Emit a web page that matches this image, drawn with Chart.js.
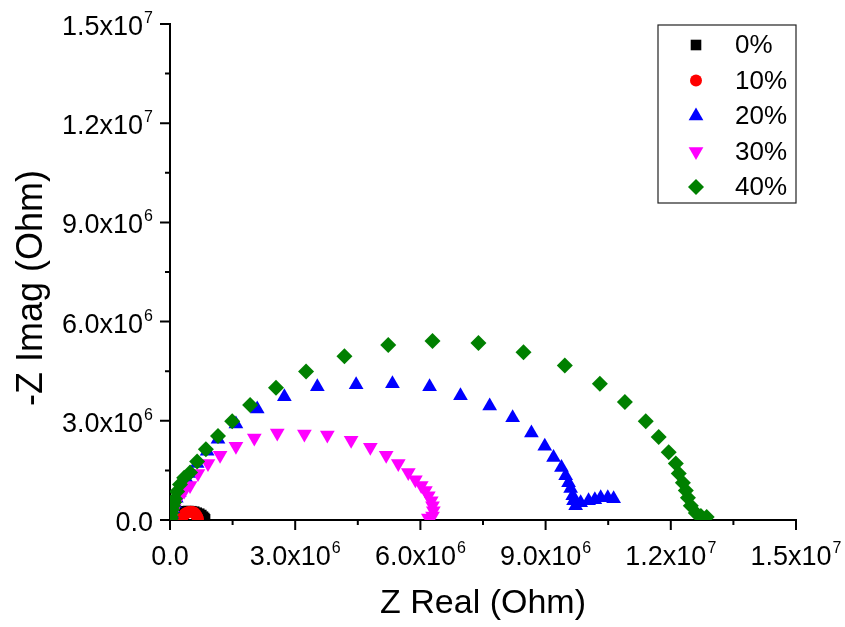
<!DOCTYPE html>
<html>
<head>
<meta charset="utf-8">
<script src="https://cdn.jsdelivr.net/npm/chart.js@4.4.1/dist/chart.umd.min.js"></script>
<style>
  html, body { margin: 0; padding: 0; background: #fff; }
  canvas { display: block; }
</style>
</head>
<body>
<canvas id="nyquist" width="845" height="627"></canvas>
<script>
// ===== DATA (values in 10^6 Ohm) =====
const SERIES = ['0%', '10%', '20%', '30%', '40%'];

const x0 = [0.03, 0.05, 0.08, 0.12, 0.17, 0.23, 0.30, 0.37, 0.44, 0.51, 0.58, 0.64, 0.70, 0.75, 0.79, 0.82, 0.84];
const y0 = [0.03, 0.08, 0.12, 0.16, 0.20, 0.23, 0.25, 0.265, 0.27, 0.265, 0.25, 0.22, 0.19, 0.15, 0.10, 0.06, 0.02];

const x1 = [0.27, 0.29, 0.32, 0.36, 0.40, 0.45, 0.50, 0.55, 0.59, 0.62, 0.65, 0.67];
const y1 = [0.03, 0.09, 0.14, 0.18, 0.22, 0.24, 0.25, 0.24, 0.21, 0.16, 0.10, 0.04];

const x2 = [0.02, 0.04, 0.07, 0.11, 0.15, 0.22, 0.31, 0.39, 0.48, 0.65, 0.89, 1.15, 1.58, 2.09, 2.74, 3.53, 4.46, 5.33, 6.22, 6.96,
            7.66, 8.21, 8.66, 8.98, 9.19, 9.38, 9.48, 9.55, 9.60, 9.65, 9.67, 9.72, 9.84, 10.03, 10.18, 10.32, 10.49, 10.63];
const y2 = [0.05, 0.17, 0.34, 0.50, 0.66, 0.83, 1.07, 1.25, 1.41, 1.71, 2.08, 2.44, 2.90, 3.36, 3.73, 4.03, 4.09, 4.12, 4.03, 3.76,
            3.45, 3.09, 2.63, 2.23, 1.89, 1.59, 1.34, 1.13, 0.95, 0.73, 0.58, 0.43, 0.52, 0.58, 0.61, 0.67, 0.67, 0.64];

const x3 = [0.02, 0.04, 0.07, 0.10, 0.14, 0.19, 0.24, 0.34, 0.48, 0.67, 0.91, 1.20, 1.58, 2.02, 2.57, 3.22, 3.77, 4.34, 4.80, 5.18,
            5.47, 5.71, 5.88, 6.02, 6.12, 6.19, 6.26, 6.29, 6.31, 6.29, 6.19];
const y3 = [0.05, 0.15, 0.25, 0.35, 0.52, 0.62, 0.73, 0.88, 1.04, 1.41, 1.71, 1.96, 2.23, 2.48, 2.63, 2.60, 2.57, 2.41, 2.20, 1.96,
            1.71, 1.44, 1.22, 1.04, 0.89, 0.73, 0.58, 0.43, 0.28, 0.12, 0.06];

const x4 = [0.01, 0.02, 0.03, 0.05, 0.07, 0.10, 0.12, 0.17, 0.24, 0.34, 0.48, 0.65, 0.86, 1.15, 1.49, 1.92, 2.54, 3.26, 4.18, 5.23,
            6.29, 7.39, 8.47, 9.46, 10.30, 10.90, 11.40, 11.71, 11.95, 12.12, 12.19, 12.29, 12.36, 12.41, 12.48, 12.60, 12.72, 12.86];
const y4 = [0.03, 0.10, 0.21, 0.32, 0.43, 0.54, 0.64, 0.86, 1.07, 1.28, 1.44, 1.77, 2.14, 2.54, 2.99, 3.48, 4.00, 4.49, 4.95, 5.29,
            5.41, 5.35, 5.07, 4.67, 4.12, 3.57, 2.99, 2.51, 2.05, 1.71, 1.41, 1.13, 0.89, 0.67, 0.43, 0.21, 0.12, 0.09];

// tick labels (base text + superscript exponent)
const TICK_VALUES = [0, 3e6, 6e6, 9e6, 1.2e7, 1.5e7];
const TICK_BASE = ['0.0', '3.0x10', '6.0x10', '9.0x10', '1.2x10', '1.5x10'];
const TICK_EXP = ['', '6', '6', '6', '7', '7'];

const X_TITLE = 'Z Real (Ohm)';
const Y_TITLE = '-Z Imag (Ohm)';

// ===== STYLE =====
const COLORS = ['#000000', '#ff0000', '#0000ff', '#ff00ff', '#008000'];
const SHAPES = ['rect', 'circle', 'triangle', 'triangle', 'rectRot'];
const ROTATE = [0, 0, 0, 180, 0];
const RADIUS = [7.5, 6, 8.5, 8.5, 8];
const FONT = '"Liberation Sans", Arial, sans-serif';

const xs = [x0, x1, x2, x3, x4];
const ys = [y0, y1, y2, y3, y4];

const datasets = SERIES.map((name, i) => ({
    label: name,
    data: xs[i].map((v, k) => ({ x: v * 1e6, y: ys[i][k] * 1e6 })),
    pointStyle: SHAPES[i],
    rotation: ROTATE[i],
    pointRadius: RADIUS[i],
    pointHoverRadius: RADIUS[i],
    pointBorderWidth: 0,
    backgroundColor: COLORS[i],
    borderColor: COLORS[i],
    showLine: false,
    order: SERIES.length - i   // later series on top
}));

// superscript label helper
function drawSup(ctx, base, exp, x, baseline, align) {
    ctx.font = '27px ' + FONT;
    const wb = ctx.measureText(base).width;
    ctx.font = '16px ' + FONT;
    const we = exp ? ctx.measureText(exp).width + 1 : 0;
    const total = wb + we;
    const left = align === 'center' ? x - total / 2 : x - total;
    ctx.textAlign = 'left';
    ctx.textBaseline = 'alphabetic';
    ctx.font = '27px ' + FONT;
    ctx.fillText(base, left, baseline);
    if (exp) {
        ctx.font = '16px ' + FONT;
        ctx.fillText(exp, left + wb + 1, baseline - 12);
    }
}

// ===== AXES DECOR / LEGEND =====
const decor = {
    id: 'decor',
    afterDraw(chart) {
        const { ctx, chartArea: a, scales: { x, y } } = chart;
        ctx.save();
        ctx.strokeStyle = '#000';
        ctx.fillStyle = '#000';
        ctx.lineWidth = 2;

        // ticks (major outward 10px, minor 5px at midpoints)
        TICK_VALUES.forEach((v, i) => {
            const px = x.getPixelForValue(v);
            const py = y.getPixelForValue(v);
            ctx.beginPath();
            ctx.moveTo(px, a.bottom); ctx.lineTo(px, a.bottom + 10);
            ctx.moveTo(a.left, py); ctx.lineTo(a.left - 10, py);
            if (i > 0) {
                const mid = (v + TICK_VALUES[i - 1]) / 2;
                const mx = x.getPixelForValue(mid);
                const my = y.getPixelForValue(mid);
                ctx.moveTo(mx, a.bottom); ctx.lineTo(mx, a.bottom + 5);
                ctx.moveTo(a.left, my); ctx.lineTo(a.left - 5, my);
            }
            ctx.stroke();

            drawSup(ctx, TICK_BASE[i], TICK_EXP[i], px, a.bottom + 45, 'center');
            drawSup(ctx, TICK_BASE[i], TICK_EXP[i], a.left - 17, py + 11, 'right');
        });

        // axis titles
        ctx.textAlign = 'center';
        ctx.textBaseline = 'middle';
        ctx.font = '34px ' + FONT;
        ctx.fillText(X_TITLE, (a.left + a.right) / 2, 604);
        ctx.font = '36px ' + FONT;
        ctx.translate(32, 288);
        ctx.rotate(-Math.PI / 2);
        ctx.fillText(Y_TITLE, 0, 0);
        ctx.setTransform(1, 0, 0, 1, 0, 0);

        // legend box
        ctx.lineWidth = 1.2;
        ctx.strokeStyle = '#222';
        ctx.fillStyle = '#fff';
        ctx.fillRect(658, 25, 138, 178);
        ctx.strokeRect(658, 25, 138, 178);
        chart.data.datasets.forEach((ds, i) => {
            const cy = 45 + i * 35.5;
            ctx.fillStyle = ds.backgroundColor;
            Chart.helpers.drawPoint(ctx, {
                pointStyle: ds.pointStyle,
                rotation: ds.rotation,
                radius: ds.pointRadius,
                borderWidth: 0
            }, 696, cy);
            ctx.fillStyle = '#000';
            ctx.font = '26px ' + FONT;
            ctx.textAlign = 'left';
            ctx.textBaseline = 'middle';
            ctx.fillText(ds.label, 735, cy + 1);
        });
        ctx.restore();
    }
};

new Chart(document.getElementById('nyquist'), {
    type: 'scatter',
    data: { datasets },
    options: {
        responsive: false,
        animation: false,
        devicePixelRatio: 1,
        layout: { padding: { left: 170, top: 24, right: 49, bottom: 107 } },
        plugins: { legend: { display: false }, tooltip: { enabled: false } },
        scales: {
            x: {
                type: 'linear', min: 0, max: 1.5e7,
                ticks: { display: false },
                grid: { display: false },
                border: { display: true, color: '#000', width: 2 },
                afterFit: s => { s.height = 0; }
            },
            y: {
                type: 'linear', min: 0, max: 1.5e7,
                ticks: { display: false },
                grid: { display: false },
                border: { display: true, color: '#000', width: 2 },
                afterFit: s => { s.width = 0; }
            }
        }
    },
    plugins: [decor]
});
</script>
</body>
</html>
